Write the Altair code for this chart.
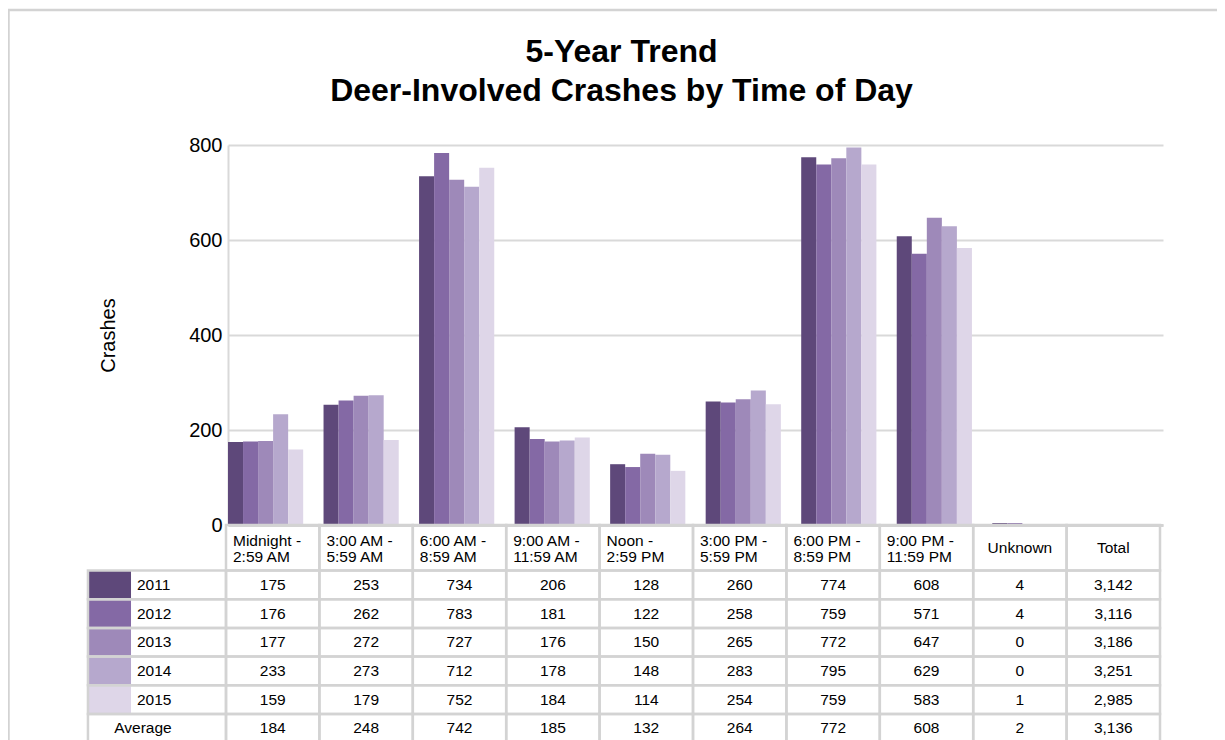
import altair as alt
import pandas as pd

FONT = "Liberation Sans"
LINE = "#d3d3d3"
GRID = "#d9d9d9"

# ---------------- data ----------------
periods = ["Midnight - 2:59 AM", "3:00 AM - 5:59 AM", "6:00 AM - 8:59 AM",
           "9:00 AM - 11:59 AM", "Noon - 2:59 PM", "3:00 PM - 5:59 PM",
           "6:00 PM - 8:59 PM", "9:00 PM - 11:59 PM", "Unknown"]
header_labels = ["Midnight -\n2:59 AM", "3:00 AM -\n5:59 AM", "6:00 AM -\n8:59 AM",
                 "9:00 AM -\n11:59 AM", "Noon -\n2:59 PM", "3:00 PM -\n5:59 PM",
                 "6:00 PM -\n8:59 PM", "9:00 PM -\n11:59 PM"]
extra_headers = ["Unknown", "Total"]
years = ["2011", "2012", "2013", "2014", "2015"]
crashes_2011 = [175, 253, 734, 206, 128, 260, 774, 608, 4]
crashes_2012 = [176, 262, 783, 181, 122, 258, 759, 571, 4]
crashes_2013 = [177, 272, 727, 176, 150, 265, 772, 647, 0]
crashes_2014 = [233, 273, 712, 178, 148, 283, 795, 629, 0]
crashes_2015 = [159, 179, 752, 184, 114, 254, 759, 583, 1]
year_totals = [3142, 3116, 3186, 3251, 2985]
average = [184, 248, 742, 185, 132, 264, 772, 608, 2]
average_total = 3136
colors = ["#5E487A", "#8469A5", "#9E89B9", "#B6A8CD", "#DED6E8"]
y_ticks = [0, 200, 400, 600, 800]
title_lines = ["5-Year Trend", "Deer-Involved Crashes by Time of Day"]

series = [crashes_2011, crashes_2012, crashes_2013, crashes_2014, crashes_2015]

# ---------------- frames ----------------
bars_df = pd.DataFrame([
    {"period": p, "year": y, "crashes": v}
    for y, vals in zip(years, series) for p, v in zip(periods, vals)
])

row_names = years + ["Average"]
row_values = [vals + [t] for vals, t in zip(series, year_totals)] + [average + [average_total]]

LABEL_LEFT = -1.478      # table label column left edge (column units)
SWATCH_RIGHT = -1.017
HEADER_TOP = -1.585      # header row top (row units)

cells = []
for r, vals in enumerate(row_values):
    for c, v in enumerate(vals):
        cells.append({"xc": c + 0.5, "yc": r + 0.5, "label": f"{v:,}"})
cells_df = pd.DataFrame(cells)

borders = []
for r in range(len(row_names)):
    borders.append({"x0": LABEL_LEFT, "x1": 0, "y0": r, "y1": r + 1})
    for c in range(10):
        borders.append({"x0": c, "x1": c + 1, "y0": r, "y1": r + 1})
for c in range(10):
    borders.append({"x0": c, "x1": c + 1, "y0": HEADER_TOP, "y1": 0})
borders_df = pd.DataFrame(borders)

swatch_df = pd.DataFrame([
    {"year": y, "x0": LABEL_LEFT, "x1": SWATCH_RIGHT, "y0": r, "y1": r + 1, "yc": r + 0.5}
    for r, y in enumerate(years)
])
avg_df = pd.DataFrame([{"x0": LABEL_LEFT, "yc": len(years) + 0.5, "name": "Average"}])

head_left_df = pd.DataFrame([
    {"x0": c, "yc": HEADER_TOP / 2, "label": h} for c, h in enumerate(header_labels)
])
head_center_df = pd.DataFrame([
    {"xc": len(header_labels) + i + 0.5, "yc": HEADER_TOP / 2, "label": h}
    for i, h in enumerate(extra_headers)
])

# ---------------- scales ----------------
color_scale = alt.Scale(domain=years, range=colors)
tx = alt.Scale(domain=[0, 10], range=[-2, 932], nice=False, zero=False)
ty = alt.Scale(domain=[0, 6], range=[425.5, 597.7], nice=False, zero=False)

# ---------------- bars ----------------
bars = alt.Chart(bars_df).mark_bar().encode(
    x=alt.X("period:N", sort=periods,
            scale=alt.Scale(domain=periods + ["Total"], paddingInner=0.213, paddingOuter=0),
            axis=alt.Axis(labels=False, ticks=False, title=None, grid=False,
                          domainColor=LINE, domainWidth=3)),
    xOffset=alt.XOffset("year:N", sort=years, scale=alt.Scale(paddingInner=0, paddingOuter=0)),
    y=alt.Y("crashes:Q", scale=alt.Scale(domain=[0, 800], nice=False),
            axis=alt.Axis(values=y_ticks, grid=True, gridColor=GRID, gridWidth=2,
                          domainColor=GRID, domainWidth=2, ticks=False,
                          labelFontSize=20, labelFont=FONT, labelColor="black", labelPadding=6,
                          title="Crashes", titleFontSize=20, titleFont=FONT,
                          titleFontWeight="normal", titleColor="black",
                          titleX=-119.5, titleY=190, titleAngle=270,
                          titleAlign="center", titleBaseline="middle")),
    color=alt.Color("year:N", scale=color_scale, legend=None),
)

# ---------------- table ----------------
def X(f):
    return alt.X(f, scale=tx, axis=None)

def Y(f):
    return alt.Y(f, scale=ty, axis=None)

swatches = alt.Chart(swatch_df).mark_rect().encode(
    x=X("x0:Q"), x2="x1:Q", y=Y("y0:Q"), y2="y1:Q",
    color=alt.Color("year:N", scale=color_scale, legend=None),
)
border_rects = alt.Chart(borders_df).mark_rect(
    fill="transparent", stroke=LINE, strokeWidth=2.5
).encode(x=X("x0:Q"), x2="x1:Q", y=Y("y0:Q"), y2="y1:Q")

txt = dict(font=FONT, fontSize=15.5, color="black", baseline="middle")
value_text = alt.Chart(cells_df).mark_text(align="center", **txt).encode(
    x=X("xc:Q"), y=Y("yc:Q"), text="label:N")
year_text = alt.Chart(swatch_df).mark_text(align="left", dx=49, **txt).encode(
    x=X("x0:Q"), y=Y("yc:Q"), text="year:N")
avg_text = alt.Chart(avg_df).mark_text(align="center", dx=55, **txt).encode(
    x=X("x0:Q"), y=Y("yc:Q"), text="name:N")
head_left = alt.Chart(head_left_df).mark_text(align="left", dx=7, dy=-7, lineBreak="\n",
                                              lineHeight=16, **txt).encode(
    x=X("x0:Q"), y=Y("yc:Q"), text="label:N")
head_center = alt.Chart(head_center_df).mark_text(align="center", **txt).encode(
    x=X("xc:Q"), y=Y("yc:Q"), text="label:N")

table = alt.layer(swatches, border_rects, value_text, year_text, avg_text, head_left, head_center)

# ---------------- frame ----------------
one = pd.DataFrame({"k": [0]})
frame_top = alt.Chart(one).mark_rule(color=LINE, strokeWidth=2.5).encode(
    x=alt.value(-220), x2=alt.value(1000), y=alt.value(-135))
frame_left = alt.Chart(one).mark_rule(color=LINE, strokeWidth=2.5).encode(
    x=alt.value(-219.5), y=alt.value(-135), y2=alt.value(700))

chart = alt.layer(frame_top, frame_left, bars, table).resolve_scale(
    x="independent", y="independent"
).properties(
    width=935, height=380,
    title=alt.Title(title_lines, font=FONT, fontSize=32, fontWeight="bold", color="black",
                    anchor="middle", dx=-74, offset=-99, lineHeight=39),
    autosize=alt.AutoSizeParams(type="none"),
    padding={"left": 220, "top": 137, "right": 54, "bottom": 215},
    background="white",
).configure_view(strokeWidth=0)

chart.save("out.html", embed_options={"renderer": "svg", "actions": False})
